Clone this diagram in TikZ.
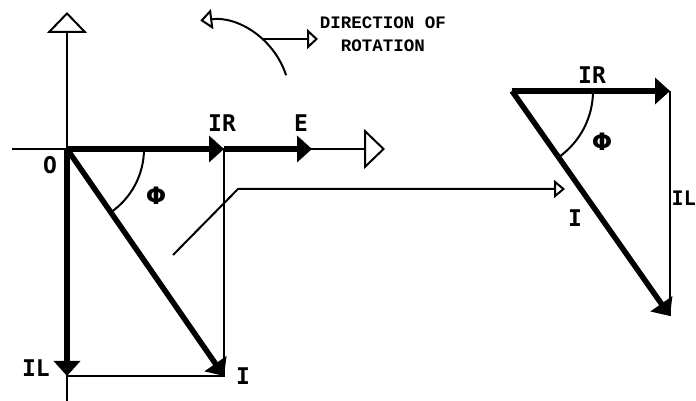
\documentclass[tikz,border=0pt]{standalone}
\usepackage{fontspec}
\usepackage{tikz}
\usetikzlibrary{arrows.meta}
\newfontfamily\labelfont{DejaVu Sans Mono}
\newfontfamily\phifont{DejaVu Sans}
\newfontfamily\notefont{Liberation Mono}

\begin{document}
\begin{tikzpicture}[x=1pt, y=1pt,
    thinline/.style={line width=2pt},
    vec/.style={line width=5.5pt, -{Triangle[length=15pt, width=26pt]}},
    axis/.style={thinline, -{Triangle[open, length=21pt, width=40pt]}},
    lbl/.style={font=\labelfont\bfseries\fontsize{23}{23}\selectfont, inner sep=0pt},
    philbl/.style={font=\phifont\bfseries\fontsize{24}{24}\selectfont, inner sep=0pt}]
    \useasboundingbox (0,0) rectangle (696,401);

    % Axes
    \coordinate (O) at (67,252);
    \coordinate (ybot) at (67,0);
    \coordinate (ytop) at (67,389);
    \coordinate (xleft) at (12,252);
    \coordinate (xright) at (385,252);
    \draw[axis] (ybot) -- (ytop);
    \draw[axis] (xleft) -- (xright);

    % Phasors on the left
    \coordinate (IR) at (224,252);
    \coordinate (E) at (312,252);
    \coordinate (IL) at (67,25);
    \coordinate (I) at (224,25);
    \draw[thinline] (IR) -- (I) -- (IL);
    \draw[vec] (IR) -- (E);
    \draw[vec] (O) -- (IR);
    \draw[vec] (O) -- (IL);
    \draw[vec] (O) -- (I);
    \draw[thinline] (O) ++(0:77) arc[start angle=0, end angle=-55.3, radius=77];
    \node[lbl] (lblO) at (50,236) {O};
    \node[lbl] (lblIR) at (222,278) {IR};
    \node[lbl] (lblE) at (301,278) {E};
    \node[lbl] (lblIL) at (36,33) {IL};
    \node[lbl] (lblI) at (243,25) {I};
    \node[philbl] (lblphi) at (156,205) {Φ};

    % Direction of rotation
    \coordinate (rc) at (210,301);
    \draw[thinline, -{Triangle[open, length=12pt, width=20pt]}] (rc) ++(18:80) arc[start angle=18, end angle=97, radius=80];
    \coordinate (rs) at (262,362);
    \coordinate (rt) at (318,362);
    \draw[thinline, -{Triangle[open, length=11pt, width=20pt]}] (rs) -- (rt);
    \node[font=\notefont\bfseries\fontsize{17.5}{23}\selectfont, align=center] (rot) at (383,367) {DIRECTION OF\\ROTATION};

    % Leader to the right-hand triangle
    \coordinate (ls) at (173,146);
    \coordinate (lb) at (238,212);
    \coordinate (le) at (565,212);
    \draw[thinline, -{Triangle[open, length=11pt, width=18pt]}] (ls) -- (lb) -- (le);

    % Right-hand triangle
    \coordinate (P) at (512,310);
    \coordinate (IR2) at (670,310);
    \coordinate (I2) at (670,85);
    \draw[thinline] (IR2) -- (I2);
    \draw[vec] (P) -- (IR2);
    \draw[vec] (P) -- (I2);
    \draw[thinline] (P) ++(0:81) arc[start angle=0, end angle=-54.9, radius=81];
    \node[lbl] (lblIR2) at (592,326) {IR};
    \node[philbl] (lblphi2) at (602,259) {Φ};
    \node[lbl] (lblI2) at (575,183) {I};
    \node[lbl, font=\labelfont\bfseries\fontsize{20}{20}\selectfont, anchor=east] (lblIL2) at (696,203) {IL};
\end{tikzpicture}
\end{document}
